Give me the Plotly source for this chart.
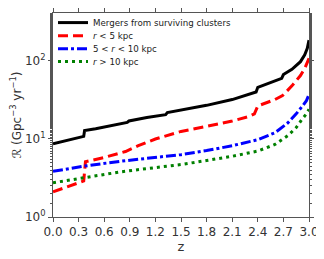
import plotly.graph_objects as go

z_black = [0.0, 0.36, 0.37, 0.5, 0.87, 0.89, 1.1, 1.32, 1.34, 1.5, 1.8, 2.1, 2.3, 2.38, 2.40, 2.6, 2.68, 2.70, 2.8, 2.9, 2.95, 2.98, 3.0]
r_black = [8.7, 10.8, 12.8, 13.5, 16.3, 17.0, 18.8, 20.5, 21.8, 23.5, 27, 32, 37, 40, 46, 56, 60, 67, 78, 98, 120, 145, 185]

z_red = [0.0, 0.36, 0.38, 0.6, 0.85, 1.0, 1.2, 1.5, 1.8, 2.1, 2.3, 2.36, 2.40, 2.6, 2.69, 2.8, 2.9, 2.95, 3.0]
r_red = [2.1, 2.9, 5.1, 5.8, 6.9, 8.2, 10, 12.5, 14.5, 17, 19.5, 21, 26.5, 32, 36, 48, 65, 80, 108]

z_blue = [0.0, 0.37, 0.8, 1.2, 1.5, 1.8, 2.1, 2.4, 2.6, 2.75, 2.85, 2.93, 2.97, 3.0]
r_blue = [3.85, 4.5, 5.2, 5.8, 6.3, 7.1, 8.2, 9.8, 12, 16, 21, 27, 31, 37]

z_green = [0.0, 0.37, 0.8, 1.2, 1.5, 1.8, 2.1, 2.4, 2.6, 2.75, 2.85, 2.92, 2.97, 3.0]
r_green = [2.75, 3.2, 3.8, 4.3, 4.7, 5.3, 6.0, 7.0, 8.5, 11, 14, 18, 21, 24]

names = ["Mergers from surviving clusters", "<i>r</i> < 5 kpc", "5 < <i>r</i> < 10 kpc", "<i>r</i> > 10 kpc"]

x_ticks = [0.0, 0.3, 0.6, 0.9, 1.2, 1.5, 1.8, 2.1, 2.4, 2.7, 3.0]
x_ticklabels = ["0.0", "0.3", "0.6", "0.9", "1.2", "1.5", "1.8", "2.1", "2.4", "2.7", "3.0"]
y_ticks = [1, 10, 100]
y_ticklabels = ["10<sup>0</sup>", "10<sup>1</sup>", "10<sup>2</sup>"]

fig = go.Figure()
fig.add_trace(go.Scatter(x=z_black, y=r_black, mode="lines", name=names[0], legend="legend",
                         line=dict(color="black", width=3)))
fig.add_trace(go.Scatter(x=z_red, y=r_red, mode="lines", name=names[1], legend="legend2",
                         line=dict(color="red", width=3, dash="10px,5px")))
fig.add_trace(go.Scatter(x=z_blue, y=r_blue, mode="lines", name=names[2], legend="legend3",
                         line=dict(color="blue", width=3, dash="10px,3px,3px,3px")))
fig.add_trace(go.Scatter(x=z_green, y=r_green, mode="lines", name=names[3], legend="legend4",
                         line=dict(color="green", width=3, dash="3px,4px")))

axis_common = dict(showline=True, linecolor="#555", linewidth=1, mirror="ticks",
                   ticks="outside", ticklen=4, tickcolor="#555", showgrid=False, zeroline=False,
                   automargin=False,
                   tickfont=dict(family="DejaVu Sans", size=12, color="#333"))

fig.update_xaxes(range=[0, 3], tickvals=x_ticks, ticktext=x_ticklabels,
                 title=dict(text="z", font=dict(family="DejaVu Sans", size=13, color="#333"), standoff=2),
                 **axis_common)
fig.update_yaxes(type="log", range=[0, 2.615], tickvals=y_ticks, ticktext=y_ticklabels,
                 title=dict(text="ℛ (Gpc<sup>−3</sup> yr<sup>−1</sup>)", font=dict(family="DejaVu Sans", size=12, color="#333"), standoff=6),
                 minor=dict(ticks="outside", ticklen=2, tickcolor="#555", showgrid=False),
                 **axis_common)

leg_common = dict(x=0.0, xanchor="left", yanchor="middle", bgcolor="rgba(0,0,0,0)",
                  borderwidth=0, font=dict(family="DejaVu Sans", size=8.7, color="#222"),
                  itemwidth=30)
# the page body has an 8px margin, so the figure is 8px smaller than the window
fig.update_layout(width=316, height=251, margin=dict(l=45, r=15, t=5, b=42, autoexpand=False),
                  plot_bgcolor="white", paper_bgcolor="white",
                  showlegend=True,
                  legend=dict(y=0.953, **leg_common),
                  legend2=dict(y=0.889, **leg_common),
                  legend3=dict(y=0.825, **leg_common),
                  legend4=dict(y=0.762, **leg_common))

fig.write_html("out.html")
